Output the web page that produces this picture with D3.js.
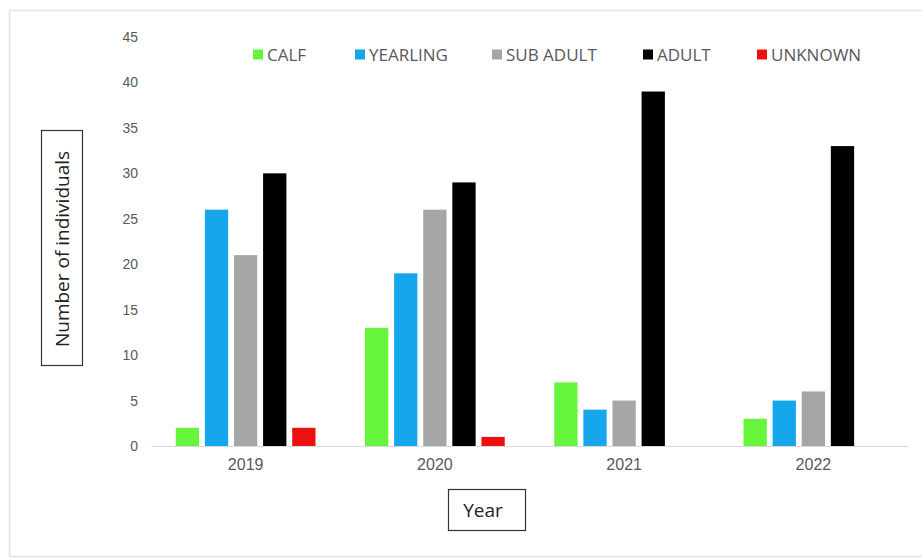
<!DOCTYPE html>
<html>
<head>
<meta charset="utf-8">
<script src="https://cdn.jsdelivr.net/npm/d3@7"></script>
<style>
  html, body { margin: 0; padding: 0; background: #fff; }
  svg { display: block; font-family: "Open Sans", "Noto Sans", sans-serif; }
</style>
</head>
<body>
<svg id="chart" width="922" height="559"></svg>
<script>
// Population structure by year
const years = ["2019", "2020", "2021", "2022"];
const ageClasses = ["CALF", "YEARLING", "SUB ADULT", "ADULT", "UNKNOWN"];
const calf     = [2, 13, 7, 3];
const yearling = [26, 19, 4, 5];
const subAdult = [21, 26, 5, 6];
const adult    = [30, 29, 39, 33];
const unknown  = [2, 1, 0, 0];
const classColors = ["#66f53a", "#16a6ec", "#a6a6a6", "#000000", "#ee1010"];
const yTicks = [0, 5, 10, 15, 20, 25, 30, 35, 40, 45];

const seriesValues = [calf, yearling, subAdult, adult, unknown];
const rows = years.map((yr, i) => ({
  year: yr,
  values: ageClasses.map((c, k) => ({ cls: c, value: seriesValues[k][i] }))
}));

const svg = d3.select("#chart");

// outer frame
svg.append("rect")
  .attr("x", 9.5).attr("y", 10.5)
  .attr("width", 930).attr("height", 546)
  .attr("fill", "none").attr("stroke", "#e3e3e3").attr("stroke-width", 1.5);

const x0 = d3.scaleBand().domain(years).range([151, 908]).paddingInner(0).paddingOuter(0);
const x1 = d3.scaleBand().domain(ageClasses).range([0, x0.bandwidth()])
  .paddingInner(0.2).paddingOuter(0.85);
const y = d3.scaleLinear().domain([0, 45]).range([446, 37]);

// y axis labels (no axis line)
const yAxis = svg.append("g").attr("transform", "translate(138,0)")
  .call(d3.axisLeft(y).tickValues(yTicks).tickSize(0).tickPadding(0));
yAxis.select(".domain").remove();
yAxis.selectAll("text")
  .attr("fill", "#595959").attr("font-size", 14);

// bars
const groups = svg.append("g").selectAll("g").data(rows).join("g")
  .attr("transform", d => `translate(${x0(d.year)},0)`);
groups.selectAll("rect").data(d => d.values).join("rect")
  .attr("x", d => x1(d.cls))
  .attr("width", x1.bandwidth())
  .attr("y", d => y(d.value))
  .attr("height", d => y(0) - y(d.value))
  .attr("fill", (d, k) => classColors[k]);

// x axis
const xAxis = svg.append("g").attr("transform", `translate(0,${y(0)})`)
  .call(d3.axisBottom(x0).tickSize(0).tickPadding(13));
xAxis.select(".domain").attr("stroke", "#d9d9d9").attr("stroke-width", 1.2);
xAxis.selectAll("text").attr("fill", "#595959").attr("font-size", 16);

// legend
const legendX = [253, 355, 492, 643, 757];
const legend = svg.append("g").selectAll("g").data(ageClasses).join("g")
  .attr("transform", (d, i) => `translate(${legendX[i]},55)`);
legend.append("rect")
  .attr("x", 0).attr("y", -5.5).attr("width", 10).attr("height", 10)
  .attr("fill", (d, i) => classColors[i]);
legend.append("text")
  .attr("x", 14).attr("y", 0).attr("dy", "0.35em")
  .attr("fill", "#595959").attr("font-size", 17)
  .text(d => d);

// y axis title in a box
svg.append("rect")
  .attr("x", 41.5).attr("y", 130.5).attr("width", 41).attr("height", 235)
  .attr("fill", "#fff").attr("stroke", "#333").attr("stroke-width", 1.2);
svg.append("text")
  .attr("transform", "translate(62,249) rotate(-90)")
  .attr("text-anchor", "middle").attr("dy", "0.35em")
  .attr("fill", "#222").attr("font-size", 19)
  .text("Number of individuals");

// x axis title in a box
svg.append("rect")
  .attr("x", 448.5).attr("y", 489.5).attr("width", 77).attr("height", 41)
  .attr("fill", "#fff").attr("stroke", "#333").attr("stroke-width", 1.2);
svg.append("text")
  .attr("x", 483).attr("y", 510).attr("dy", "0.35em")
  .attr("text-anchor", "middle")
  .attr("fill", "#222").attr("font-size", 19)
  .text("Year");
</script>
</body>
</html>
